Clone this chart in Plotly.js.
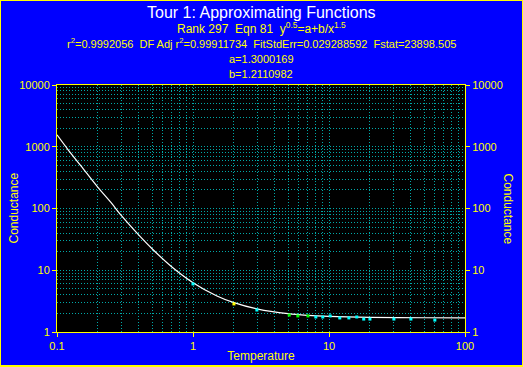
<!DOCTYPE html>
<html><head><meta charset="utf-8">
<script src="https://cdn.plot.ly/plotly-3.0.1.min.js"></script>
<style>
html,body{margin:0;padding:0;background:#FFFF00;width:523px;height:367px;overflow:hidden;}
#chart{position:absolute;left:1px;top:1px;width:521px;height:364px;}
</style></head><body>
<div id="chart"></div>
<script>
// Curve (Temperature vs Conductance)
const curveX = [0.1, 0.12, 0.15, 0.2, 0.25, 0.3, 0.4, 0.5, 0.7, 1, 1.5, 2, 3, 5, 7, 10, 20, 50, 100];
const curveY = [1560, 910, 490, 220, 124, 75, 37, 22.3, 11.3, 6.3, 3.84, 2.99, 2.35, 1.98, 1.86, 1.79, 1.725, 1.70, 1.69];
const ptsX = [1, 2, 2.95, 5.1, 5.9, 7.0, 8.0, 9.0, 10.2, 12, 14, 16, 18, 20, 30, 40, 60];
const ptsY = [6.0, 2.85, 2.27, 1.88, 1.82, 1.82, 1.75, 1.75, 1.82, 1.69, 1.69, 1.75, 1.62, 1.62, 1.62, 1.62, 1.56];
const ptsColor = ['#00FFFF','#FFFF00','#00FFFF','#00FF00','#00FF00','#00FF00','#00FFFF','#00FFFF','#00FFFF','#00FFFF','#00FFFF','#00FFFF','#00FFFF','#00FFFF','#00FFFF','#00FFFF','#00FFFF'];
const yTicks = [1, 10, 100, 1000, 10000];
const yTickText = ['1', '10', '100', '1000', '10000'];
const xTicks = [0.1, 1, 10, 100];
const xTickText = ['0.1', '1', '10', '100'];

const FONT = 'Liberation Sans, Arial, sans-serif';
const GRID = '#00A8A8';
const DASH = '1px,2px';

const traces = [
  {x: curveX, y: curveY, mode: 'lines', line: {color: '#FFFFFF', width: 1.2, shape: 'spline'}, hoverinfo: 'none', showlegend: false},
  {x: ptsX, y: ptsY, mode: 'markers', marker: {color: ptsColor, size: 3, symbol: 'square', line: {width: 0}}, showlegend: false, yaxis: 'y2'}
];

const axisCommon = {
  type: 'log', showline: true, linecolor: '#FFFF00', linewidth: 1,
  ticks: 'outside', ticklen: 4, tickcolor: '#FFFF00', tickwidth: 1,
  tickfont: {family: FONT, size: 11, color: '#FFFF00'},
  showgrid: true, gridcolor: GRID, griddash: DASH, gridwidth: 1,
  zeroline: false,
  minor: {dtick: 'D1', showgrid: true, gridcolor: GRID, griddash: DASH, gridwidth: 1, ticks: ''}
};

function ann(text, ypx, size, color) {
  return {text: text, xref: 'paper', yref: 'paper', x: 0.5, y: (331 - ypx) / 247,
    xanchor: 'center', yanchor: 'middle', showarrow: false,
    font: {family: FONT, size: size, color: color}};
}

const layout = {
  width: 521, height: 364,
  paper_bgcolor: '#0000FF', plot_bgcolor: '#000000',
  margin: {l: 56, r: 57, t: 84, b: 33},
  showlegend: false,
  xaxis: Object.assign({}, axisCommon, {range: [-1, 2], tickvals: xTicks, ticktext: xTickText, mirror: true,
    title: {text: 'Temperature', font: {family: FONT, size: 12, color: '#FFFF00'}, standoff: 0}}),
  yaxis: Object.assign({}, axisCommon, {range: [0, 4], tickvals: yTicks, ticktext: yTickText, mirror: true}),
  yaxis2: Object.assign({}, axisCommon, {range: [0, 4], tickvals: yTicks, ticktext: yTickText, overlaying: 'y', side: 'right', showgrid: false, minor: {showgrid: false}}),
  annotations: [
    ann('Tour 1: Approximating Functions', 12, 16, '#FFFFFF'),
    ann('Rank 297  Eqn 81  y<sup>0.5</sup>=a+b/x<sup>1.5</sup>', 27, 12, '#FFFF00'),
    ann('r<sup>2</sup>=0.9992056  DF Adj r<sup>2</sup>=0.99911734  FitStdErr=0.029288592  Fstat=23898.505', 42, 11, '#FFFF00'),
    ann('a=1.3000169', 58, 11, '#FFFF00'),
    ann('b=1.2110982', 73, 11, '#FFFF00'),
    {text: 'Conductance', xref: 'paper', yref: 'paper', x: -44 / 408, y: 0.5, xanchor: 'center', yanchor: 'middle', textangle: -90, showarrow: false, font: {family: FONT, size: 12, color: '#FFFF00'}},
    {text: 'Conductance', xref: 'paper', yref: 'paper', x: 1 + 43 / 408, y: 0.5, xanchor: 'center', yanchor: 'middle', textangle: 90, showarrow: false, font: {family: FONT, size: 12, color: '#FFFF00'}}
  ]
};

Plotly.newPlot('chart', traces, layout, {staticPlot: true, displayModeBar: false});
</script>
</body></html>
